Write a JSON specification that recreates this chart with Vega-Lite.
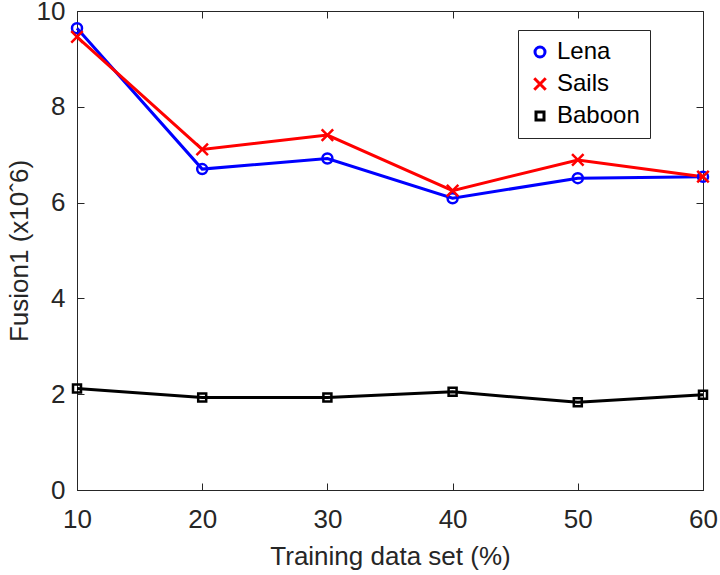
{
  "$schema": "https://vega.github.io/schema/vega-lite/v6.json",
  "width": 626,
  "height": 479,
  "autosize": {"type": "none"},
  "padding": {"left": 77, "top": 11, "right": 17, "bottom": 85},
  "background": "white",
  "config": {
    "font": "Liberation Sans",
    "view": {"stroke": "#262626", "strokeWidth": 1},
    "axis": {
      "grid": false,
      "domainColor": "#262626",
      "tickColor": "#262626",
      "labelColor": "#262626",
      "titleColor": "#262626",
      "labelFontSize": 26,
      "titleFontSize": 26,
      "titleFontWeight": "normal",
      "labelFont": "Liberation Sans",
      "titleFont": "Liberation Sans",
      "labelFlush": false,
      "tickSize": -7
    },
    "legend": {
      "title": null,
      "orient": "none",
      "legendX": 441,
      "legendY": 19,
      "direction": "vertical",
      "labelFontSize": 24,
      "labelColor": "#000000",
      "labelFont": "Liberation Sans",
      "symbolSize": 100,
      "symbolStrokeWidth": 3,
      "symbolFillColor": "transparent",
      "rowPadding": 8,
      "labelOffset": 5,
      "padding": 10,
      "strokeColor": "#262626",
      "fillColor": "white"
    }
  },
  "data": {
    "values": [
      {"pct": 10, "series": "Lena", "value": 9.64},
      {"pct": 20, "series": "Lena", "value": 6.70},
      {"pct": 30, "series": "Lena", "value": 6.92},
      {"pct": 40, "series": "Lena", "value": 6.09},
      {"pct": 50, "series": "Lena", "value": 6.51},
      {"pct": 60, "series": "Lena", "value": 6.54},
      {"pct": 10, "series": "Sails", "value": 9.46},
      {"pct": 20, "series": "Sails", "value": 7.11},
      {"pct": 30, "series": "Sails", "value": 7.41},
      {"pct": 40, "series": "Sails", "value": 6.25},
      {"pct": 50, "series": "Sails", "value": 6.89},
      {"pct": 60, "series": "Sails", "value": 6.54},
      {"pct": 10, "series": "Baboon", "value": 2.12},
      {"pct": 20, "series": "Baboon", "value": 1.93},
      {"pct": 30, "series": "Baboon", "value": 1.93},
      {"pct": 40, "series": "Baboon", "value": 2.05},
      {"pct": 50, "series": "Baboon", "value": 1.83},
      {"pct": 60, "series": "Baboon", "value": 1.99}
    ]
  },
  "resolve": {"axis": {"x": "independent", "y": "independent"}},
  "layer": [
    {
      "mark": {"type": "rule", "opacity": 0},
      "encoding": {
        "x": {"field": "pct", "type": "quantitative", "scale": {"domain": [10, 60], "nice": false, "zero": false}, "axis": {"orient": "top", "values": [10, 20, 30, 40, 50, 60], "labels": false, "title": null, "domain": false}},
        "y": {"field": "value", "type": "quantitative", "scale": {"domain": [0, 10], "nice": false}, "axis": {"orient": "right", "values": [0, 2, 4, 6, 8, 10], "labels": false, "title": null, "domain": false}}
      }
    },
    {
      "mark": {"type": "line", "strokeWidth": 3, "clip": false},
      "encoding": {
        "x": {
          "field": "pct", "type": "quantitative",
          "scale": {"domain": [10, 60], "nice": false, "zero": false},
          "axis": {"orient": "bottom", "values": [10, 20, 30, 40, 50, 60], "title": "Training data set (%)", "labelPadding": 23, "titlePadding": 11}
        },
        "y": {
          "field": "value", "type": "quantitative",
          "scale": {"domain": [0, 10], "nice": false},
          "axis": {"orient": "left", "values": [0, 2, 4, 6, 8, 10], "title": "Fusion1 (x10ˆ6)", "labelPadding": 19, "titlePadding": 4}
        },
        "color": {
          "field": "series", "type": "nominal",
          "scale": {"domain": ["Lena", "Sails", "Baboon"], "range": ["#0000ff", "#ff0000", "#000000"]}
        }
      }
    },
    {
      "mark": {"type": "point", "filled": false, "strokeWidth": 2.5, "size": 100, "opacity": 1, "clip": false},
      "encoding": {
        "x": {"field": "pct", "type": "quantitative", "axis": null},
        "y": {"field": "value", "type": "quantitative", "axis": null},
        "color": {"field": "series", "type": "nominal"},
        "shape": {
          "field": "series", "type": "nominal",
          "scale": {"domain": ["Lena", "Sails", "Baboon"], "range": ["circle", "M-1.15,-1.15L1.15,1.15M-1.15,1.15L1.15,-1.15", "M-0.8,-0.8H0.8V0.8H-0.8Z"]}
        }
      }
    }
  ]
}
